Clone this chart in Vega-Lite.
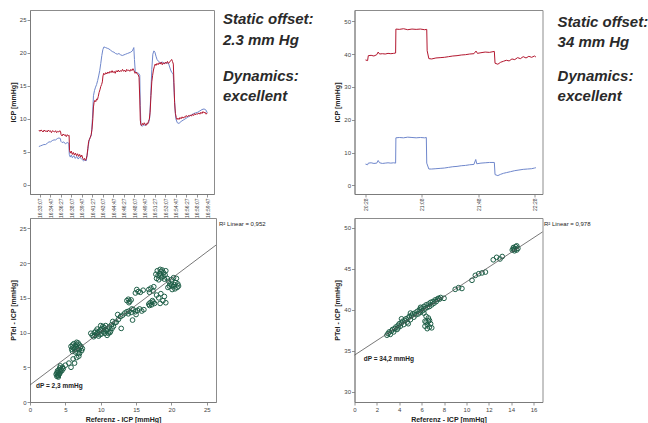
{
  "$schema": "https://vega.github.io/schema/vega-lite/v6.json",
  "background": "white",
  "padding": {"left": 8, "top": 9, "right": 0, "bottom": 0},
  "bounds": "flush",
  "columns": 2,
  "spacing": {"row": 24, "column": 138.5},
  "config": {
    "font": "Liberation Sans",
    "view": {"stroke": "#8c8c8c", "strokeWidth": 1},
    "axis": {"grid": false, "labelOverlap": false, "labelFlush": false, "labelFontSize": 6, "titleFontSize": 7, "titleFontWeight": "bold", "labelColor": "#444", "titleColor": "#222", "domainColor": "#777", "tickColor": "#777", "tickSize": 3, "labelPadding": 1, "titlePadding": 3, "domainWidth": 0.8, "tickWidth": 0.8}
  },
  "datasets": {
    "ts1": [
      {"t":-10,"sensor":"Referenz","icp":5.8},{"t":6,"sensor":"Referenz","icp":5.9},{"t":22,"sensor":"Referenz","icp":6.0},{"t":38,"sensor":"Referenz","icp":6.1},{"t":54,"sensor":"Referenz","icp":6.1},{"t":70,"sensor":"Referenz","icp":6.3},{"t":86,"sensor":"Referenz","icp":6.5},{"t":102,"sensor":"Referenz","icp":6.5},{"t":118,"sensor":"Referenz","icp":6.7},{"t":134,"sensor":"Referenz","icp":6.8},{"t":150,"sensor":"Referenz","icp":6.8},{"t":166,"sensor":"Referenz","icp":7.0},{"t":182,"sensor":"Referenz","icp":7.1},{"t":196,"sensor":"Referenz","icp":7.0},{"t":200,"sensor":"Referenz","icp":6.6},{"t":212,"sensor":"Referenz","icp":6.4},{"t":228,"sensor":"Referenz","icp":6.5},{"t":244,"sensor":"Referenz","icp":6.2},{"t":260,"sensor":"Referenz","icp":6.4},{"t":276,"sensor":"Referenz","icp":6.3},{"t":281,"sensor":"Referenz","icp":4.6},{"t":290,"sensor":"Referenz","icp":4.2},{"t":300,"sensor":"Referenz","icp":4.5},{"t":310,"sensor":"Referenz","icp":4.1},{"t":324,"sensor":"Referenz","icp":4.4},{"t":338,"sensor":"Referenz","icp":4.0},{"t":352,"sensor":"Referenz","icp":4.3},{"t":366,"sensor":"Referenz","icp":3.9},{"t":380,"sensor":"Referenz","icp":4.2},{"t":394,"sensor":"Referenz","icp":4.0},{"t":405,"sensor":"Referenz","icp":3.8},{"t":418,"sensor":"Referenz","icp":3.6},{"t":430,"sensor":"Referenz","icp":3.8},{"t":442,"sensor":"Referenz","icp":3.6},{"t":452,"sensor":"Referenz","icp":4.5},{"t":462,"sensor":"Referenz","icp":5.8},{"t":472,"sensor":"Referenz","icp":6.8},{"t":482,"sensor":"Referenz","icp":7.2},{"t":492,"sensor":"Referenz","icp":7.5},{"t":502,"sensor":"Referenz","icp":10.0},{"t":512,"sensor":"Referenz","icp":13.5},{"t":522,"sensor":"Referenz","icp":14.3},{"t":532,"sensor":"Referenz","icp":14.8},{"t":542,"sensor":"Referenz","icp":15.2},{"t":552,"sensor":"Referenz","icp":15.8},{"t":562,"sensor":"Referenz","icp":16.5},{"t":572,"sensor":"Referenz","icp":17.3},{"t":582,"sensor":"Referenz","icp":18.4},{"t":592,"sensor":"Referenz","icp":19.6},{"t":602,"sensor":"Referenz","icp":20.5},{"t":612,"sensor":"Referenz","icp":20.9},{"t":628,"sensor":"Referenz","icp":20.8},{"t":644,"sensor":"Referenz","icp":20.7},{"t":660,"sensor":"Referenz","icp":20.6},{"t":676,"sensor":"Referenz","icp":20.4},{"t":692,"sensor":"Referenz","icp":20.2},{"t":708,"sensor":"Referenz","icp":20.1},{"t":724,"sensor":"Referenz","icp":19.9},{"t":740,"sensor":"Referenz","icp":19.8},{"t":756,"sensor":"Referenz","icp":19.9},{"t":772,"sensor":"Referenz","icp":19.7},{"t":788,"sensor":"Referenz","icp":19.6},{"t":804,"sensor":"Referenz","icp":19.7},{"t":820,"sensor":"Referenz","icp":19.8},{"t":836,"sensor":"Referenz","icp":19.9},{"t":852,"sensor":"Referenz","icp":20.0},{"t":868,"sensor":"Referenz","icp":20.1},{"t":884,"sensor":"Referenz","icp":20.3},{"t":898,"sensor":"Referenz","icp":20.8},{"t":904,"sensor":"Referenz","icp":19.0},{"t":912,"sensor":"Referenz","icp":17.1},{"t":928,"sensor":"Referenz","icp":17.0},{"t":944,"sensor":"Referenz","icp":16.9},{"t":955,"sensor":"Referenz","icp":16.6},{"t":960,"sensor":"Referenz","icp":12.0},{"t":966,"sensor":"Referenz","icp":9.0},{"t":980,"sensor":"Referenz","icp":8.9},{"t":995,"sensor":"Referenz","icp":9.1},{"t":1010,"sensor":"Referenz","icp":9.0},{"t":1025,"sensor":"Referenz","icp":9.3},{"t":1040,"sensor":"Referenz","icp":9.4},{"t":1050,"sensor":"Referenz","icp":10.2},{"t":1060,"sensor":"Referenz","icp":13.5},{"t":1070,"sensor":"Referenz","icp":17.5},{"t":1080,"sensor":"Referenz","icp":19.8},{"t":1090,"sensor":"Referenz","icp":20.3},{"t":1100,"sensor":"Referenz","icp":20.1},{"t":1110,"sensor":"Referenz","icp":19.5},{"t":1120,"sensor":"Referenz","icp":19.0},{"t":1135,"sensor":"Referenz","icp":18.7},{"t":1150,"sensor":"Referenz","icp":18.5},{"t":1170,"sensor":"Referenz","icp":18.6},{"t":1190,"sensor":"Referenz","icp":18.4},{"t":1210,"sensor":"Referenz","icp":18.5},{"t":1230,"sensor":"Referenz","icp":18.4},{"t":1250,"sensor":"Referenz","icp":17.4},{"t":1262,"sensor":"Referenz","icp":17.0},{"t":1275,"sensor":"Referenz","icp":16.8},{"t":1284,"sensor":"Referenz","icp":14.0},{"t":1292,"sensor":"Referenz","icp":11.5},{"t":1300,"sensor":"Referenz","icp":10.0},{"t":1314,"sensor":"Referenz","icp":9.4},{"t":1330,"sensor":"Referenz","icp":9.3},{"t":1350,"sensor":"Referenz","icp":9.6},{"t":1370,"sensor":"Referenz","icp":9.8},{"t":1390,"sensor":"Referenz","icp":10.0},{"t":1410,"sensor":"Referenz","icp":10.2},{"t":1430,"sensor":"Referenz","icp":10.4},{"t":1450,"sensor":"Referenz","icp":10.6},{"t":1470,"sensor":"Referenz","icp":10.8},{"t":1490,"sensor":"Referenz","icp":10.9},{"t":1510,"sensor":"Referenz","icp":11.0},{"t":1530,"sensor":"Referenz","icp":11.2},{"t":1550,"sensor":"Referenz","icp":11.4},{"t":1570,"sensor":"Referenz","icp":11.5},{"t":1590,"sensor":"Referenz","icp":11.3},{"t":1600,"sensor":"Referenz","icp":10.9},
      {"t":-10,"sensor":"PTel","icp":8.3},{"t":0,"sensor":"PTel","icp":8.1},{"t":10,"sensor":"PTel","icp":8.3},{"t":20,"sensor":"PTel","icp":8.2},{"t":30,"sensor":"PTel","icp":8.0},{"t":40,"sensor":"PTel","icp":8.3},{"t":50,"sensor":"PTel","icp":8.1},{"t":60,"sensor":"PTel","icp":8.2},{"t":70,"sensor":"PTel","icp":8.0},{"t":80,"sensor":"PTel","icp":8.3},{"t":90,"sensor":"PTel","icp":8.1},{"t":100,"sensor":"PTel","icp":8.2},{"t":110,"sensor":"PTel","icp":7.9},{"t":120,"sensor":"PTel","icp":8.2},{"t":130,"sensor":"PTel","icp":8.1},{"t":140,"sensor":"PTel","icp":8.0},{"t":150,"sensor":"PTel","icp":8.2},{"t":160,"sensor":"PTel","icp":7.9},{"t":170,"sensor":"PTel","icp":8.1},{"t":180,"sensor":"PTel","icp":8.0},{"t":190,"sensor":"PTel","icp":8.2},{"t":198,"sensor":"PTel","icp":8.0},{"t":202,"sensor":"PTel","icp":7.6},{"t":212,"sensor":"PTel","icp":7.4},{"t":222,"sensor":"PTel","icp":7.7},{"t":232,"sensor":"PTel","icp":7.5},{"t":242,"sensor":"PTel","icp":7.6},{"t":252,"sensor":"PTel","icp":7.3},{"t":262,"sensor":"PTel","icp":7.6},{"t":272,"sensor":"PTel","icp":7.4},{"t":279,"sensor":"PTel","icp":7.5},{"t":283,"sensor":"PTel","icp":5.2},{"t":292,"sensor":"PTel","icp":4.8},{"t":300,"sensor":"PTel","icp":5.1},{"t":310,"sensor":"PTel","icp":4.6},{"t":320,"sensor":"PTel","icp":4.9},{"t":330,"sensor":"PTel","icp":4.5},{"t":340,"sensor":"PTel","icp":4.8},{"t":350,"sensor":"PTel","icp":4.4},{"t":360,"sensor":"PTel","icp":4.7},{"t":370,"sensor":"PTel","icp":4.3},{"t":380,"sensor":"PTel","icp":4.6},{"t":390,"sensor":"PTel","icp":4.2},{"t":400,"sensor":"PTel","icp":4.5},{"t":410,"sensor":"PTel","icp":4.0},{"t":418,"sensor":"PTel","icp":3.8},{"t":426,"sensor":"PTel","icp":4.0},{"t":434,"sensor":"PTel","icp":3.7},{"t":442,"sensor":"PTel","icp":3.9},{"t":450,"sensor":"PTel","icp":4.4},{"t":458,"sensor":"PTel","icp":5.5},{"t":466,"sensor":"PTel","icp":6.6},{"t":474,"sensor":"PTel","icp":6.9},{"t":482,"sensor":"PTel","icp":7.2},{"t":490,"sensor":"PTel","icp":7.6},{"t":498,"sensor":"PTel","icp":8.4},{"t":506,"sensor":"PTel","icp":10.0},{"t":512,"sensor":"PTel","icp":11.8},{"t":518,"sensor":"PTel","icp":12.5},{"t":526,"sensor":"PTel","icp":12.8},{"t":534,"sensor":"PTel","icp":12.6},{"t":542,"sensor":"PTel","icp":13.0},{"t":550,"sensor":"PTel","icp":12.9},{"t":558,"sensor":"PTel","icp":13.4},{"t":566,"sensor":"PTel","icp":14.0},{"t":574,"sensor":"PTel","icp":14.4},{"t":582,"sensor":"PTel","icp":14.9},{"t":590,"sensor":"PTel","icp":15.2},{"t":597,"sensor":"PTel","icp":15.6},{"t":603,"sensor":"PTel","icp":16.5},{"t":610,"sensor":"PTel","icp":16.9},{"t":620,"sensor":"PTel","icp":16.7},{"t":630,"sensor":"PTel","icp":17.0},{"t":640,"sensor":"PTel","icp":16.8},{"t":650,"sensor":"PTel","icp":17.1},{"t":660,"sensor":"PTel","icp":16.9},{"t":670,"sensor":"PTel","icp":17.2},{"t":680,"sensor":"PTel","icp":17.0},{"t":690,"sensor":"PTel","icp":17.3},{"t":700,"sensor":"PTel","icp":17.0},{"t":710,"sensor":"PTel","icp":17.2},{"t":720,"sensor":"PTel","icp":16.9},{"t":730,"sensor":"PTel","icp":17.3},{"t":740,"sensor":"PTel","icp":17.1},{"t":750,"sensor":"PTel","icp":17.4},{"t":760,"sensor":"PTel","icp":17.1},{"t":770,"sensor":"PTel","icp":17.3},{"t":780,"sensor":"PTel","icp":17.2},{"t":790,"sensor":"PTel","icp":17.5},{"t":800,"sensor":"PTel","icp":17.2},{"t":810,"sensor":"PTel","icp":17.4},{"t":820,"sensor":"PTel","icp":17.1},{"t":830,"sensor":"PTel","icp":17.5},{"t":840,"sensor":"PTel","icp":17.3},{"t":850,"sensor":"PTel","icp":17.4},{"t":860,"sensor":"PTel","icp":17.2},{"t":870,"sensor":"PTel","icp":17.5},{"t":880,"sensor":"PTel","icp":17.3},{"t":890,"sensor":"PTel","icp":17.6},{"t":900,"sensor":"PTel","icp":17.3},{"t":910,"sensor":"PTel","icp":16.9},{"t":920,"sensor":"PTel","icp":17.1},{"t":930,"sensor":"PTel","icp":16.8},{"t":940,"sensor":"PTel","icp":16.7},{"t":948,"sensor":"PTel","icp":16.3},{"t":955,"sensor":"PTel","icp":13.0},{"t":960,"sensor":"PTel","icp":9.8},{"t":966,"sensor":"PTel","icp":9.1},{"t":974,"sensor":"PTel","icp":9.0},{"t":982,"sensor":"PTel","icp":9.3},{"t":990,"sensor":"PTel","icp":9.1},{"t":998,"sensor":"PTel","icp":9.4},{"t":1006,"sensor":"PTel","icp":9.2},{"t":1014,"sensor":"PTel","icp":9.0},{"t":1022,"sensor":"PTel","icp":9.3},{"t":1030,"sensor":"PTel","icp":9.2},{"t":1038,"sensor":"PTel","icp":9.6},{"t":1046,"sensor":"PTel","icp":9.9},{"t":1054,"sensor":"PTel","icp":11.0},{"t":1062,"sensor":"PTel","icp":13.5},{"t":1070,"sensor":"PTel","icp":15.6},{"t":1078,"sensor":"PTel","icp":16.6},{"t":1086,"sensor":"PTel","icp":17.4},{"t":1094,"sensor":"PTel","icp":17.9},{"t":1102,"sensor":"PTel","icp":18.3},{"t":1110,"sensor":"PTel","icp":18.1},{"t":1120,"sensor":"PTel","icp":18.4},{"t":1130,"sensor":"PTel","icp":18.2},{"t":1140,"sensor":"PTel","icp":18.5},{"t":1150,"sensor":"PTel","icp":18.3},{"t":1160,"sensor":"PTel","icp":18.6},{"t":1170,"sensor":"PTel","icp":18.2},{"t":1180,"sensor":"PTel","icp":18.5},{"t":1190,"sensor":"PTel","icp":18.3},{"t":1200,"sensor":"PTel","icp":18.6},{"t":1210,"sensor":"PTel","icp":18.4},{"t":1220,"sensor":"PTel","icp":18.7},{"t":1230,"sensor":"PTel","icp":18.4},{"t":1240,"sensor":"PTel","icp":18.6},{"t":1250,"sensor":"PTel","icp":18.8},{"t":1260,"sensor":"PTel","icp":19.0},{"t":1268,"sensor":"PTel","icp":18.7},{"t":1276,"sensor":"PTel","icp":18.3},{"t":1282,"sensor":"PTel","icp":15.5},{"t":1288,"sensor":"PTel","icp":12.5},{"t":1296,"sensor":"PTel","icp":10.8},{"t":1304,"sensor":"PTel","icp":10.2},{"t":1312,"sensor":"PTel","icp":9.9},{"t":1320,"sensor":"PTel","icp":10.1},{"t":1330,"sensor":"PTel","icp":9.9},{"t":1340,"sensor":"PTel","icp":10.2},{"t":1350,"sensor":"PTel","icp":10.0},{"t":1360,"sensor":"PTel","icp":10.3},{"t":1370,"sensor":"PTel","icp":10.1},{"t":1380,"sensor":"PTel","icp":10.3},{"t":1390,"sensor":"PTel","icp":10.2},{"t":1400,"sensor":"PTel","icp":10.5},{"t":1410,"sensor":"PTel","icp":10.3},{"t":1420,"sensor":"PTel","icp":10.5},{"t":1430,"sensor":"PTel","icp":10.4},{"t":1440,"sensor":"PTel","icp":10.6},{"t":1450,"sensor":"PTel","icp":10.4},{"t":1460,"sensor":"PTel","icp":10.7},{"t":1470,"sensor":"PTel","icp":10.5},{"t":1480,"sensor":"PTel","icp":10.8},{"t":1490,"sensor":"PTel","icp":10.6},{"t":1500,"sensor":"PTel","icp":10.8},{"t":1510,"sensor":"PTel","icp":10.7},{"t":1520,"sensor":"PTel","icp":10.9},{"t":1530,"sensor":"PTel","icp":10.7},{"t":1540,"sensor":"PTel","icp":11.0},{"t":1550,"sensor":"PTel","icp":10.8},{"t":1560,"sensor":"PTel","icp":11.1},{"t":1570,"sensor":"PTel","icp":10.9},{"t":1580,"sensor":"PTel","icp":11.0},{"t":1590,"sensor":"PTel","icp":10.7},{"t":1600,"sensor":"PTel","icp":10.9}
    ],
    "ts2": [
      {"t":0,"sensor":"Referenz","icp":6.5},{"t":1.5,"sensor":"Referenz","icp":6.3},{"t":2,"sensor":"Referenz","icp":6.8},{"t":4,"sensor":"Referenz","icp":6.9},{"t":6,"sensor":"Referenz","icp":6.7},{"t":8,"sensor":"Referenz","icp":6.8},{"t":9,"sensor":"Referenz","icp":7.6},{"t":10,"sensor":"Referenz","icp":6.9},{"t":12,"sensor":"Referenz","icp":6.7},{"t":14,"sensor":"Referenz","icp":6.8},{"t":16,"sensor":"Referenz","icp":6.9},{"t":18,"sensor":"Referenz","icp":6.8},{"t":20,"sensor":"Referenz","icp":6.9},{"t":21.4,"sensor":"Referenz","icp":6.8},{"t":21.6,"sensor":"Referenz","icp":14.5},{"t":24,"sensor":"Referenz","icp":14.6},{"t":27,"sensor":"Referenz","icp":14.5},{"t":30,"sensor":"Referenz","icp":14.7},{"t":33,"sensor":"Referenz","icp":14.6},{"t":36,"sensor":"Referenz","icp":14.5},{"t":39,"sensor":"Referenz","icp":14.6},{"t":42,"sensor":"Referenz","icp":14.5},{"t":43.2,"sensor":"Referenz","icp":14.6},{"t":43.5,"sensor":"Referenz","icp":6.8},{"t":45,"sensor":"Referenz","icp":5.0},{"t":47,"sensor":"Referenz","icp":5.0},{"t":50,"sensor":"Referenz","icp":5.1},{"t":53,"sensor":"Referenz","icp":5.2},{"t":56,"sensor":"Referenz","icp":5.3},{"t":59,"sensor":"Referenz","icp":5.5},{"t":62,"sensor":"Referenz","icp":5.7},{"t":65,"sensor":"Referenz","icp":5.8},{"t":68,"sensor":"Referenz","icp":6.0},{"t":71,"sensor":"Referenz","icp":6.1},{"t":74,"sensor":"Referenz","icp":6.3},{"t":77,"sensor":"Referenz","icp":6.4},{"t":78.3,"sensor":"Referenz","icp":7.9},{"t":79,"sensor":"Referenz","icp":6.6},{"t":82,"sensor":"Referenz","icp":6.8},{"t":85,"sensor":"Referenz","icp":6.9},{"t":88,"sensor":"Referenz","icp":7.0},{"t":91.5,"sensor":"Referenz","icp":7.0},{"t":92,"sensor":"Referenz","icp":3.3},{"t":94,"sensor":"Referenz","icp":3.0},{"t":96,"sensor":"Referenz","icp":3.4},{"t":98,"sensor":"Referenz","icp":3.7},{"t":100,"sensor":"Referenz","icp":3.9},{"t":103,"sensor":"Referenz","icp":4.2},{"t":106,"sensor":"Referenz","icp":4.5},{"t":109,"sensor":"Referenz","icp":4.7},{"t":112,"sensor":"Referenz","icp":4.9},{"t":115,"sensor":"Referenz","icp":5.0},{"t":118,"sensor":"Referenz","icp":5.1},{"t":120,"sensor":"Referenz","icp":5.3},{"t":121,"sensor":"Referenz","icp":5.4},
      {"t":0,"sensor":"PTel","icp":38.2},{"t":1.5,"sensor":"PTel","icp":38.0},{"t":2,"sensor":"PTel","icp":39.5},{"t":4,"sensor":"PTel","icp":39.6},{"t":6,"sensor":"PTel","icp":39.4},{"t":8,"sensor":"PTel","icp":39.8},{"t":9,"sensor":"PTel","icp":40.6},{"t":10,"sensor":"PTel","icp":40.0},{"t":12,"sensor":"PTel","icp":40.1},{"t":14,"sensor":"PTel","icp":40.0},{"t":16,"sensor":"PTel","icp":40.2},{"t":18,"sensor":"PTel","icp":40.1},{"t":20,"sensor":"PTel","icp":40.2},{"t":21.4,"sensor":"PTel","icp":40.3},{"t":21.6,"sensor":"PTel","icp":47.6},{"t":24,"sensor":"PTel","icp":47.5},{"t":27,"sensor":"PTel","icp":47.7},{"t":30,"sensor":"PTel","icp":47.4},{"t":33,"sensor":"PTel","icp":47.6},{"t":36,"sensor":"PTel","icp":47.5},{"t":39,"sensor":"PTel","icp":47.6},{"t":42,"sensor":"PTel","icp":47.4},{"t":43.5,"sensor":"PTel","icp":47.5},{"t":43.8,"sensor":"PTel","icp":41.0},{"t":45,"sensor":"PTel","icp":38.6},{"t":47,"sensor":"PTel","icp":38.5},{"t":50,"sensor":"PTel","icp":38.8},{"t":53,"sensor":"PTel","icp":38.9},{"t":56,"sensor":"PTel","icp":39.0},{"t":59,"sensor":"PTel","icp":39.2},{"t":62,"sensor":"PTel","icp":39.4},{"t":65,"sensor":"PTel","icp":39.5},{"t":68,"sensor":"PTel","icp":39.7},{"t":71,"sensor":"PTel","icp":39.8},{"t":74,"sensor":"PTel","icp":40.0},{"t":77,"sensor":"PTel","icp":40.1},{"t":78.5,"sensor":"PTel","icp":40.9},{"t":79.5,"sensor":"PTel","icp":40.2},{"t":82,"sensor":"PTel","icp":40.4},{"t":85,"sensor":"PTel","icp":40.6},{"t":88,"sensor":"PTel","icp":40.5},{"t":91.5,"sensor":"PTel","icp":40.8},{"t":92,"sensor":"PTel","icp":37.2},{"t":94,"sensor":"PTel","icp":36.9},{"t":96,"sensor":"PTel","icp":37.5},{"t":98,"sensor":"PTel","icp":37.8},{"t":100,"sensor":"PTel","icp":38.1},{"t":102,"sensor":"PTel","icp":37.9},{"t":104,"sensor":"PTel","icp":38.5},{"t":106,"sensor":"PTel","icp":38.3},{"t":108,"sensor":"PTel","icp":38.9},{"t":110,"sensor":"PTel","icp":38.6},{"t":112,"sensor":"PTel","icp":39.2},{"t":114,"sensor":"PTel","icp":38.8},{"t":116,"sensor":"PTel","icp":39.3},{"t":118,"sensor":"PTel","icp":39.0},{"t":120,"sensor":"PTel","icp":39.4},{"t":121,"sensor":"PTel","icp":39.1}
    ],
    "s1": [
      {"ref":3.8,"ptel":3.7},{"ref":3.9,"ptel":3.9},{"ref":4.0,"ptel":3.8},{"ref":4.1,"ptel":4.0},{"ref":3.8,"ptel":4.2},{"ref":4.0,"ptel":4.3},{"ref":4.2,"ptel":4.1},{"ref":4.3,"ptel":4.4},{"ref":4.1,"ptel":4.6},{"ref":3.9,"ptel":4.5},{"ref":4.4,"ptel":4.7},{"ref":4.5,"ptel":4.5},{"ref":4.2,"ptel":4.9},{"ref":4.6,"ptel":5.0},{"ref":4.3,"ptel":5.2},{"ref":4.7,"ptel":4.8},{"ref":3.7,"ptel":4.0},{"ref":4.0,"ptel":3.6},
      {"ref":5.0,"ptel":5.3},{"ref":5.5,"ptel":5.6},{"ref":5.8,"ptel":5.0},{"ref":6.1,"ptel":6.2},{"ref":6.3,"ptel":5.6},{"ref":6.6,"ptel":6.4},{"ref":6.9,"ptel":6.6},
      {"ref":5.8,"ptel":8.0},{"ref":6.0,"ptel":8.2},{"ref":6.2,"ptel":8.4},{"ref":6.4,"ptel":8.1},{"ref":6.6,"ptel":8.3},{"ref":6.8,"ptel":8.5},{"ref":7.0,"ptel":8.2},{"ref":7.2,"ptel":8.0},{"ref":6.1,"ptel":7.8},{"ref":6.3,"ptel":7.6},{"ref":6.5,"ptel":7.9},{"ref":6.7,"ptel":7.7},{"ref":6.9,"ptel":7.5},{"ref":7.1,"ptel":7.8},{"ref":7.3,"ptel":7.4},{"ref":6.0,"ptel":7.3},{"ref":6.4,"ptel":7.2},{"ref":6.8,"ptel":7.1},{"ref":7.0,"ptel":7.0},{"ref":5.9,"ptel":7.6},{"ref":6.6,"ptel":8.6},{"ref":7.4,"ptel":7.7},
      {"ref":9.0,"ptel":9.4},{"ref":9.2,"ptel":9.6},{"ref":9.4,"ptel":9.8},{"ref":9.6,"ptel":10.0},{"ref":9.8,"ptel":10.2},{"ref":10.0,"ptel":10.4},{"ref":10.2,"ptel":10.6},{"ref":10.4,"ptel":10.1},{"ref":10.6,"ptel":9.9},{"ref":10.8,"ptel":10.3},{"ref":11.0,"ptel":10.5},{"ref":11.2,"ptel":10.8},{"ref":11.4,"ptel":10.2},{"ref":11.6,"ptel":10.6},{"ref":9.5,"ptel":10.5},{"ref":9.7,"ptel":9.5},{"ref":9.9,"ptel":9.7},{"ref":10.1,"ptel":9.8},{"ref":10.3,"ptel":10.9},{"ref":10.5,"ptel":10.7},{"ref":10.7,"ptel":11.0},{"ref":10.9,"ptel":9.6},{"ref":11.1,"ptel":9.9},{"ref":11.3,"ptel":10.0},{"ref":11.5,"ptel":11.1},{"ref":9.3,"ptel":10.2},{"ref":8.8,"ptel":9.6},{"ref":8.6,"ptel":9.9},{"ref":9.1,"ptel":10.0},{"ref":10.0,"ptel":11.0},{"ref":10.6,"ptel":10.4},{"ref":11.8,"ptel":10.9},{"ref":12.0,"ptel":11.4},{"ref":11.7,"ptel":11.6},{"ref":12.9,"ptel":10.6},
      {"ref":12.2,"ptel":11.5},{"ref":12.5,"ptel":11.9},{"ref":12.8,"ptel":12.3},{"ref":13.1,"ptel":12.5},{"ref":13.4,"ptel":12.8},{"ref":12.4,"ptel":12.6},
      {"ref":13.7,"ptel":13.0},{"ref":14.0,"ptel":13.1},{"ref":14.3,"ptel":12.9},{"ref":14.6,"ptel":13.3},{"ref":14.9,"ptel":13.0},{"ref":15.2,"ptel":13.2},{"ref":15.5,"ptel":13.4},{"ref":15.8,"ptel":13.1},{"ref":16.1,"ptel":13.3},{"ref":13.9,"ptel":12.7},{"ref":14.4,"ptel":13.4},{"ref":15.0,"ptel":12.6},{"ref":14.5,"ptel":11.8},
      {"ref":13.7,"ptel":14.6},{"ref":13.9,"ptel":14.8},{"ref":14.1,"ptel":14.5},{"ref":14.3,"ptel":14.7},{"ref":14.0,"ptel":14.3},
      {"ref":14.9,"ptel":15.7},{"ref":15.3,"ptel":15.9},{"ref":15.6,"ptel":15.8},{"ref":16.0,"ptel":16.1},{"ref":15.1,"ptel":16.2},
      {"ref":16.8,"ptel":14.1},{"ref":17.0,"ptel":14.3},{"ref":17.2,"ptel":14.0},{"ref":17.4,"ptel":14.4},{"ref":17.6,"ptel":14.2},{"ref":16.9,"ptel":13.9},{"ref":17.3,"ptel":14.6},
      {"ref":17.9,"ptel":15.4},{"ref":18.2,"ptel":15.0},{"ref":18.5,"ptel":15.6},{"ref":18.8,"ptel":14.6},{"ref":19.0,"ptel":15.2},{"ref":19.2,"ptel":14.3},{"ref":18.4,"ptel":14.2},
      {"ref":16.8,"ptel":16.2},{"ref":17.1,"ptel":16.4},{"ref":17.4,"ptel":16.0},{"ref":16.9,"ptel":15.8},{"ref":17.5,"ptel":16.6},
      {"ref":17.9,"ptel":17.8},{"ref":18.1,"ptel":18.2},{"ref":18.3,"ptel":18.5},{"ref":18.5,"ptel":18.8},{"ref":18.7,"ptel":19.0},{"ref":18.9,"ptel":18.6},{"ref":19.1,"ptel":18.3},{"ref":18.2,"ptel":17.6},{"ref":18.6,"ptel":17.9},{"ref":18.8,"ptel":18.1},{"ref":19.0,"ptel":17.7},{"ref":18.4,"ptel":19.1},{"ref":18.0,"ptel":18.9},{"ref":19.2,"ptel":18.9},{"ref":18.5,"ptel":18.3},{"ref":17.8,"ptel":18.4},
      {"ref":19.4,"ptel":17.8},{"ref":19.6,"ptel":17.4},{"ref":19.8,"ptel":17.0},{"ref":20.0,"ptel":16.8},{"ref":20.2,"ptel":16.6},{"ref":20.4,"ptel":16.9},{"ref":20.6,"ptel":17.2},{"ref":20.8,"ptel":16.5},{"ref":20.0,"ptel":17.6},{"ref":20.3,"ptel":17.9},{"ref":19.7,"ptel":16.7},{"ref":20.5,"ptel":16.3},{"ref":20.9,"ptel":17.0},{"ref":20.1,"ptel":16.2},{"ref":19.5,"ptel":16.5},{"ref":20.7,"ptel":17.8},{"ref":21.0,"ptel":16.7}
    ],
    "s2": [
      {"ref":2.9,"ptel":36.9},{"ref":3.0,"ptel":37.1},{"ref":3.1,"ptel":37.3},{"ref":3.2,"ptel":37.0},{"ref":3.3,"ptel":37.4},{"ref":3.4,"ptel":37.6},{"ref":3.5,"ptel":37.3},
      {"ref":3.6,"ptel":37.7},{"ref":3.7,"ptel":37.9},{"ref":3.8,"ptel":37.6},{"ref":3.9,"ptel":38.1},{"ref":4.0,"ptel":38.3},{"ref":4.1,"ptel":38.0},{"ref":4.2,"ptel":38.4},{"ref":4.3,"ptel":38.6},{"ref":4.4,"ptel":38.2},{"ref":4.5,"ptel":38.7},{"ref":3.9,"ptel":37.8},{"ref":4.2,"ptel":38.9},
      {"ref":4.6,"ptel":38.9},{"ref":4.7,"ptel":38.5},{"ref":4.8,"ptel":39.0},{"ref":4.9,"ptel":39.2},{"ref":5.0,"ptel":38.8},{"ref":5.1,"ptel":39.3},{"ref":5.2,"ptel":39.5},{"ref":5.3,"ptel":39.1},{"ref":5.4,"ptel":39.6},{"ref":5.5,"ptel":39.4},{"ref":4.8,"ptel":38.3},{"ref":5.0,"ptel":39.6},
      {"ref":5.6,"ptel":39.8},{"ref":5.7,"ptel":39.5},{"ref":5.8,"ptel":40.0},{"ref":5.9,"ptel":39.7},{"ref":6.0,"ptel":40.2},{"ref":6.1,"ptel":39.9},{"ref":6.2,"ptel":40.4},{"ref":6.3,"ptel":40.1},{"ref":6.4,"ptel":40.6},{"ref":6.5,"ptel":40.3},{"ref":5.9,"ptel":40.3},{"ref":6.2,"ptel":39.6},
      {"ref":6.6,"ptel":40.7},{"ref":6.7,"ptel":40.4},{"ref":6.8,"ptel":40.9},{"ref":6.9,"ptel":40.6},{"ref":7.0,"ptel":41.0},{"ref":7.1,"ptel":40.8},{"ref":7.2,"ptel":41.2},{"ref":7.3,"ptel":41.0},{"ref":7.5,"ptel":41.4},{"ref":7.6,"ptel":41.3},
      {"ref":6.3,"ptel":38.0},{"ref":6.5,"ptel":38.2},{"ref":6.7,"ptel":37.9},{"ref":6.4,"ptel":38.5},{"ref":6.6,"ptel":38.6},{"ref":6.8,"ptel":38.3},{"ref":6.9,"ptel":37.8},{"ref":6.5,"ptel":37.7},{"ref":6.3,"ptel":38.6},{"ref":6.7,"ptel":38.7},{"ref":6.4,"ptel":39.2},{"ref":6.6,"ptel":39.0},
      {"ref":7.4,"ptel":41.3},{"ref":7.7,"ptel":41.5},{"ref":8.0,"ptel":41.4},{"ref":9.0,"ptel":42.5},{"ref":9.3,"ptel":42.7},{"ref":9.6,"ptel":42.6},{"ref":10.5,"ptel":43.6},{"ref":10.8,"ptel":44.2},{"ref":11.1,"ptel":44.4},{"ref":11.4,"ptel":44.5},{"ref":11.7,"ptel":44.6},{"ref":12.4,"ptel":46.1},{"ref":12.7,"ptel":46.4},{"ref":13.0,"ptel":46.2},{"ref":13.2,"ptel":46.5},
      {"ref":14.1,"ptel":47.3},{"ref":14.2,"ptel":47.6},{"ref":14.3,"ptel":47.4},{"ref":14.4,"ptel":47.7},{"ref":14.5,"ptel":47.3},{"ref":14.6,"ptel":47.5},{"ref":14.3,"ptel":47.2},{"ref":14.5,"ptel":47.8},{"ref":14.2,"ptel":47.4}
    ],
    "fit1": [{"ref":0,"ptel":2.45},{"ref":26.3,"ptel":22.6}],
    "fit2": [{"ref":0,"ptel":34.47},{"ref":16.8,"ptel":49.5}]
  },
  "concat": [
    {
      "width": 184, "height": 184,
      "layer": [
        {
          "data": {"name": "ts1"},
          "mark": {"type": "line", "strokeWidth": 1},
          "encoding": {
            "x": {"field": "t", "type": "quantitative", "scale": {"domain": [-95, 1665], "nice": false, "zero": false},
              "axis": {"title": null, "tickCount": 100, "values": [0,100,200,300,400,500,600,700,800,900,1000,1100,1200,1300,1400,1500,1600], "labelAngle": 270, "labelFontSize": 5, "labelExpr": "utcFormat((datum.value + 59587) * 1000, '%H:%M:%S')"}},
            "y": {"field": "icp", "type": "quantitative", "scale": {"domain": [-1.4, 26.5], "nice": false, "zero": false},
              "axis": {"title": "ICP [mmHg]", "tickCount": 100, "format": "d", "values": [0,5,10,15,20,25]}},
            "color": {"field": "sensor", "type": "nominal", "scale": {"domain": ["Referenz", "PTel"], "range": ["#6f87cc", "#b3172f"]}, "legend": null}
          }
        },
        {
          "data": {"values": [{}]},
          "mark": {"type": "text", "text": ["Static offset:", "2.3 mm Hg"], "align": "left", "baseline": "alphabetic", "fontSize": 15, "fontWeight": "bold", "fontStyle": "italic", "color": "#2a2a2a", "lineHeight": 21},
          "encoding": {"x": {"datum": 1751}, "y": {"datum": 24.33}}
        },
        {
          "data": {"values": [{}]},
          "mark": {"type": "text", "text": ["Dynamics:", "excellent"], "align": "left", "baseline": "alphabetic", "fontSize": 15, "fontWeight": "bold", "fontStyle": "italic", "color": "#2a2a2a", "lineHeight": 20},
          "encoding": {"x": {"datum": 1751}, "y": {"datum": 15.73}}
        }
      ]
    },
    {
      "width": 188, "height": 184,
      "layer": [
        {
          "data": {"name": "ts2"},
          "mark": {"type": "line", "strokeWidth": 1},
          "encoding": {
            "x": {"field": "t", "type": "quantitative", "scale": {"domain": [-7.8, 125.7], "nice": false, "zero": false},
              "axis": {"title": null, "tickCount": 100, "values": [0, 40, 80, 120], "labelAngle": 270, "labelFontSize": 5, "labelExpr": "utcFormat((datum.value + 1228) * 60000, '%H:%M')"}},
            "y": {"field": "icp", "type": "quantitative", "scale": {"domain": [-2.6, 53.4], "nice": false, "zero": false},
              "axis": {"title": "ICP [mmHg]", "tickCount": 100, "format": "d", "values": [0,10,20,30,40,50]}},
            "color": {"field": "sensor", "type": "nominal", "scale": {"domain": ["Referenz", "PTel"], "range": ["#6f87cc", "#b3172f"]}, "legend": null}
          }
        },
        {
          "data": {"values": [{}]},
          "mark": {"type": "text", "text": ["Static offset:", "34 mm Hg"], "align": "left", "baseline": "alphabetic", "fontSize": 15, "fontWeight": "bold", "fontStyle": "italic", "color": "#2a2a2a", "lineHeight": 20},
          "encoding": {"x": {"datum": 136.4}, "y": {"datum": 48.23}}
        },
        {
          "data": {"values": [{}]},
          "mark": {"type": "text", "text": ["Dynamics:", "excellent"], "align": "left", "baseline": "alphabetic", "fontSize": 15, "fontWeight": "bold", "fontStyle": "italic", "color": "#2a2a2a", "lineHeight": 20},
          "encoding": {"x": {"datum": 136.4}, "y": {"datum": 31.79}}
        }
      ]
    },
    {
      "width": 186, "height": 184,
      "layer": [
        {
          "data": {"name": "s1"},
          "mark": {"type": "point", "shape": "circle", "filled": false, "size": 22, "strokeWidth": 1, "color": "#1f5f48", "opacity": 1},
          "encoding": {
            "x": {"field": "ref", "type": "quantitative", "scale": {"domain": [0, 26.3], "nice": false, "zero": false},
              "axis": {"title": "Referenz - ICP [mmHg]", "tickCount": 100, "format": "d", "values": [0,5,10,15,20,25]}},
            "y": {"field": "ptel", "type": "quantitative", "scale": {"domain": [0, 26.5], "nice": false, "zero": false},
              "axis": {"title": "PTel - ICP [mmHg]", "tickCount": 100, "format": "d", "values": [0,5,10,15,20,25]}}
          }
        },
        {
          "data": {"name": "fit1"},
          "mark": {"type": "line", "color": "#555", "strokeWidth": 0.8},
          "encoding": {"x": {"field": "ref", "type": "quantitative"}, "y": {"field": "ptel", "type": "quantitative"}}
        },
        {
          "data": {"values": [{}]},
          "mark": {"type": "text", "text": "dP = 2,3 mmHg", "align": "left", "baseline": "middle", "fontSize": 6.5, "fontWeight": "bold", "color": "#222"},
          "encoding": {"x": {"datum": 0.85}, "y": {"datum": 2.29}}
        },
        {
          "data": {"values": [{}]},
          "mark": {"type": "text", "text": "R² Linear = 0,952", "align": "left", "baseline": "middle", "fontSize": 6, "color": "#222"},
          "encoding": {"x": {"datum": 26.73}, "y": {"datum": 25.64}}
        }
      ]
    },
    {
      "width": 188, "height": 184,
      "layer": [
        {
          "data": {"name": "s2"},
          "mark": {"type": "point", "shape": "circle", "filled": false, "size": 22, "strokeWidth": 1, "color": "#1f5f48", "opacity": 1},
          "encoding": {
            "x": {"field": "ref", "type": "quantitative", "scale": {"domain": [0, 16.8], "nice": false, "zero": false},
              "axis": {"title": "Referenz - ICP [mmHg]", "tickCount": 100, "format": "d", "values": [0,2,4,6,8,10,12,14,16]}},
            "y": {"field": "ptel", "type": "quantitative", "scale": {"domain": [28.75, 51.2], "nice": false, "zero": false},
              "axis": {"title": "PTel - ICP [mmHg]", "tickCount": 100, "format": "d", "values": [30,35,40,45,50]}}
          }
        },
        {
          "data": {"name": "fit2"},
          "mark": {"type": "line", "color": "#555", "strokeWidth": 0.8},
          "encoding": {"x": {"field": "ref", "type": "quantitative"}, "y": {"field": "ptel", "type": "quantitative"}}
        },
        {
          "data": {"values": [{}]},
          "mark": {"type": "text", "text": "dP = 34,2 mmHg", "align": "left", "baseline": "middle", "fontSize": 6.5, "fontWeight": "bold", "color": "#222"},
          "encoding": {"x": {"datum": 0.82}, "y": {"datum": 34.04}}
        },
        {
          "data": {"values": [{}]},
          "mark": {"type": "text", "text": "R² Linear = 0,978", "align": "left", "baseline": "middle", "fontSize": 6, "color": "#222"},
          "encoding": {"x": {"datum": 16.93}, "y": {"datum": 50.47}}
        }
      ]
    }
  ]
}
